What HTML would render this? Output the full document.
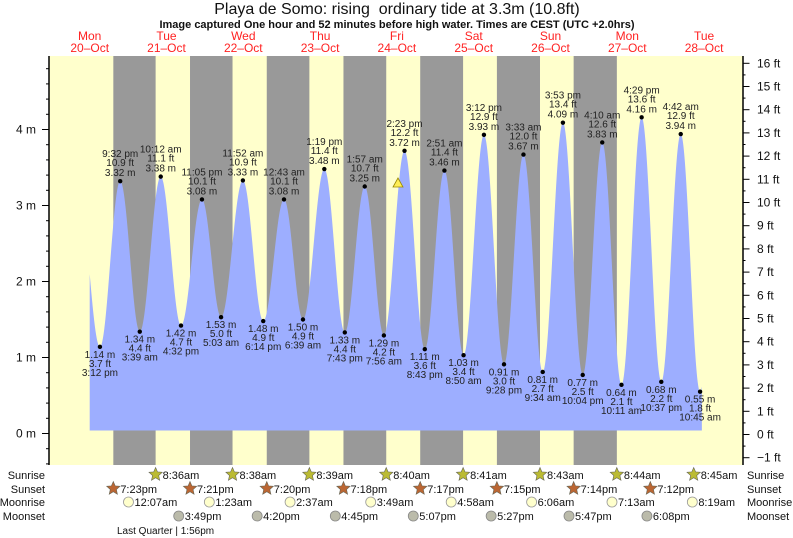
<!DOCTYPE html>
<html><head><meta charset="utf-8">
<style>
html,body{margin:0;padding:0;background:#fff;}
svg{display:block;font-family:"Liberation Sans",sans-serif;}
</style></head>
<body>
<svg id="s" width="793" height="538" xmlns="http://www.w3.org/2000/svg"></svg>
<script>
const s=document.getElementById('s');
let out='';
const X=t=>51.3+t*3.2;
const Y=m=>433.5-m*76;
const PT=56,PB=465,PL=49,PR=742.5;
out+=`<rect x="${PL}" y="${PT}" width="${PR-PL}" height="${PB-PT}" fill="#ffffcc"/>`;
const sunset=[19+23/60,19+21/60,19+20/60,19+18/60,19+17/60,19+15/60,19+14/60,19+12/60];
const sunrise=[8+36/60,8+38/60,8+39/60,8+40/60,8+41/60,8+43/60,8+44/60,8+45/60];
for(let d=0;d<7;d++){const a=X(d*24+sunset[d]),b=X((d+1)*24+sunrise[d]);
out+=`<rect x="${a}" y="${PT}" width="${b-a}" height="${PB-PT}" fill="#999999"/>`;}
const ex=[[8.5,3.2],[15.2,1.14,'3:12 pm','3.7 ft'],[21.53,3.32,'9:32 pm','10.9 ft'],[27.65,1.34,'3:39 am','4.4 ft'],[34.2,3.38,'10:12 am','11.1 ft'],[40.53,1.42,'4:32 pm','4.7 ft'],[47.08,3.08,'11:05 pm','10.1 ft'],[53.05,1.53,'5:03 am','5.0 ft'],[59.87,3.33,'11:52 am','10.9 ft'],[66.23,1.48,'6:14 pm','4.9 ft'],[72.72,3.08,'12:43 am','10.1 ft'],[78.65,1.50,'6:39 am','4.9 ft'],[85.32,3.48,'1:19 pm','11.4 ft'],[91.72,1.33,'7:43 pm','4.4 ft'],[97.95,3.25,'1:57 am','10.7 ft'],[103.93,1.29,'7:56 am','4.2 ft'],[110.38,3.72,'2:23 pm','12.2 ft'],[116.72,1.11,'8:43 pm','3.6 ft'],[122.85,3.46,'2:51 am','11.4 ft'],[128.83,1.03,'8:50 am','3.4 ft'],[135.2,3.93,'3:12 pm','12.9 ft'],[141.47,0.91,'9:28 pm','3.0 ft'],[147.55,3.67,'3:33 am','12.0 ft'],[153.57,0.81,'9:34 am','2.7 ft'],[159.88,4.09,'3:53 pm','13.4 ft'],[166.07,0.77,'10:04 pm','2.5 ft'],[172.17,3.83,'4:10 am','12.6 ft'],[178.18,0.64,'10:11 am','2.1 ft'],[184.48,4.16,'4:29 pm','13.6 ft'],[190.62,0.68,'10:37 pm','2.2 ft'],[196.7,3.94,'4:42 am','12.9 ft'],[202.75,0.55,'10:45 am','1.8 ft'],[209,4.0]];
function h(t){for(let i=0;i<ex.length-1;i++){const[a,va]=ex[i],[b,vb]=ex[i+1];if(t>=a&&t<=b){const f=(t-a)/(b-a);return va+(vb-va)*(1-Math.cos(Math.PI*f))/2;}}return 0;}
const t0=12,t1=203.3,FB=430.5;
let d=`M${X(t0)},${FB}`;
for(let t=t0;t<=t1;t+=0.1)d+=` L${X(t).toFixed(2)},${Y(h(t)).toFixed(2)}`;
d+=` L${X(t1)},${Y(h(t1))} L${X(t1)},${FB} Z`;
out+=`<path d="${d}" fill="#9daeff"/>`;
for(let i=1;i<ex.length-1;i++){const[t,v,tm,ft]=ex[i];const x=X(t),y=Y(v);
out+=`<circle cx="${x}" cy="${y}" r="2.2" fill="#000"/>`;
const high=v>2;const st=`font-size="10" fill="#222" text-anchor="middle"`;
if(high){out+=`<text x="${x}" y="${y-24}" ${st}>${tm}</text><text x="${x}" y="${y-15}" ${st}>${ft}</text><text x="${x}" y="${y-5}" ${st}>${v.toFixed(2)} m</text>`;}
else{out+=`<text x="${x}" y="${y+11}" ${st}>${v.toFixed(2)} m</text><text x="${x}" y="${y+20}" ${st}>${ft}</text><text x="${x}" y="${y+29}" ${st}>${tm}</text>`;}}
out+=`<polygon points="398,178 393,187 403,187" fill="#ffee55" stroke="#998800" stroke-width="0.8"/>`;
out+=`<line x1="${PL}" y1="${PT}" x2="${PL}" y2="${PB}" stroke="#000" stroke-width="1.5"/>`;
out+=`<line x1="${PR+0.5}" y1="${PT}" x2="${PR+0.5}" y2="${PB}" stroke="#000" stroke-width="1.5"/>`;
for(let m=-0.4;m<=5.0;m+=0.2){const y=Y(m);if(y<PT||y>PB)continue;const major=Math.abs(m-Math.round(m))<0.01;
out+=`<line x1="${PL-(major?7:3)}" y1="${y}" x2="${PL}" y2="${y}" stroke="#000"/>`;
if(major)out+=`<text x="36" y="${y+4}" font-size="12" text-anchor="end" fill="#111">${Math.round(m)} m</text>`;}
for(let f=-1.5;f<=16.5;f+=0.5){const y=433.5+1-f*23.2;if(y<PT||y>PB)continue;const major=Math.abs(f-Math.round(f))<0.01;
out+=`<line x1="${PR}" y1="${y}" x2="${PR+(major?7:3)}" y2="${y}" stroke="#000"/>`;
if(major)out+=`<text x="757" y="${y+4}" font-size="12" fill="#111">${Math.round(f)==-1?'\u22121':Math.round(f)} ft</text>`;}
out+=`<text x="397" y="14" font-size="16" text-anchor="middle" fill="#111">Playa de Somo: rising&#160; ordinary tide at 3.3m (10.8ft)</text>`;
out+=`<text x="397" y="28" font-size="11" font-weight="bold" text-anchor="middle" fill="#111">Image captured One hour and 52 minutes before high water. Times are CEST (UTC +2.0hrs)</text>`;
const days=['Mon','Tue','Wed','Thu','Fri','Sat','Sun','Mon','Tue'];
for(let i=0;i<9;i++){const x=X(i*24+12);
out+=`<text x="${x}" y="40" font-size="12" fill="#ff2222" text-anchor="middle">${days[i]}</text><text x="${x}" y="52" font-size="12" fill="#ff2222" text-anchor="middle">${20+i}\u2013Oct</text>`;}
const rows=[['Sunrise',479],['Sunset',493],['Moonrise',506],['Moonset',520]];
rows.forEach(([n,y])=>{out+=`<text x="45" y="${y}" font-size="11" text-anchor="end" fill="#111">${n}</text><text x="747" y="${y}" font-size="11" fill="#111">${n}</text>`;});
function star(cx,cy,fill){let p='';for(let k=0;k<10;k++){const r=k%2?3.2:7,a=-Math.PI/2+k*Math.PI/5;p+=`${(cx+r*Math.cos(a)).toFixed(1)},${(cy+r*Math.sin(a)).toFixed(1)} `;}return `<polygon points="${p}" fill="${fill}" stroke="#665" stroke-width="0.6"/>`;}
const fmt=h=>{let hh=Math.floor(h),mm=Math.round((h-hh)*60);const ap=hh>=12?'pm':'am';let h12=hh%12;if(h12==0)h12=12;return h12+':'+String(mm).padStart(2,'0')+ap;};
for(let i=0;i<8;i++){const x=X((i+1)*24+sunrise[i]);out+=star(x,474.5,'#bbbb33')+`<text x="${x+7}" y="479" font-size="11" fill="#111">${fmt(sunrise[i])}</text>`;}
for(let i=0;i<8;i++){const x=X(i*24+sunset[i]);out+=star(x,488.5,'#bb6633')+`<text x="${x+7}" y="493" font-size="11" fill="#111">${fmt(sunset[i])}</text>`;}
const mr=[0+7/60,1+23/60,2+37/60,3+49/60,4+58/60,6+6/60,7+13/60,8+19/60];
for(let i=0;i<8;i++){const x=X((i+1)*24+mr[i]);out+=`<circle cx="${x}" cy="502" r="5" fill="#ffffcc" stroke="#999" stroke-width="0.8"/><text x="${x+6}" y="506" font-size="11" fill="#111">${fmt(mr[i])}</text>`;}
const ms=[15+49/60,16+20/60,16+45/60,17+7/60,17+27/60,17+47/60,18+8/60];
for(let i=0;i<7;i++){const x=X((i+1)*24+ms[i]);out+=`<circle cx="${x}" cy="516" r="5" fill="#bbbbaa" stroke="#888" stroke-width="0.8"/><text x="${x+6}" y="520" font-size="11" fill="#111">${fmt(ms[i])}</text>`;}
out+=`<text x="117" y="534" font-size="10" fill="#111">Last Quarter | 1:56pm</text>`;
s.innerHTML=out;
</script>
</body></html>
